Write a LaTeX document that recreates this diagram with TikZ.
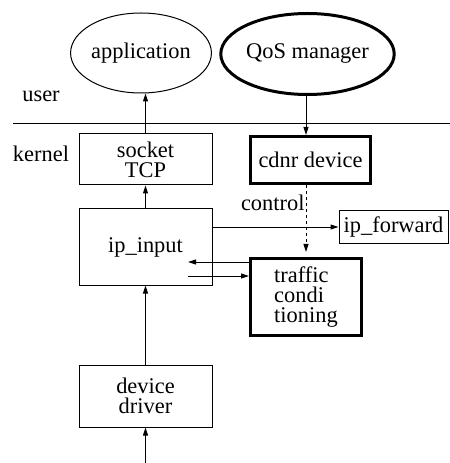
\documentclass[tikz,border=0pt]{standalone}
\usepackage{fontspec}
\setmainfont{Liberation Serif}
\usetikzlibrary{shapes.geometric,arrows.meta}
\newcommand\figfont{\fontsize{22.5}{20}\selectfont}
\tikzset{
  >={Triangle[length=8bp,width=5bp]},
  every path/.style={line width=1bp},
  box/.style={draw, inner sep=0pt, align=center, font=\figfont},
  thickbox/.style={box, line width=3bp},
  oval/.style={draw, ellipse, inner sep=0pt, font=\figfont},
}

\begin{document}
\begin{tikzpicture}[x=1bp, y=-1bp]
\useasboundingbox (0,0) rectangle (450,463);
\node[oval, minimum width=115bp, minimum height=80bp] (app) at (141,53) {application};
\node[oval, line width=3bp, minimum width=166bp, minimum height=81bp] (qos) at (307.5,54) {QoS manager};
\node[font=\figfont] (user) at (41,96) {user};
\node[font=\figfont] (kernel) at (41,154) {kernel};
\coordinate (lineL) at (13,124);
\coordinate (lineR) at (450,124);
\draw (lineL) -- (lineR);
\node[box, minimum width=133bp, minimum height=51bp] (sock) at (145.5,159.5) {socket\\TCP};
\node[thickbox, minimum width=120bp, minimum height=47bp] (cdnr) at (310.5,160) {cdnr device};
\node[box, minimum width=133bp, minimum height=76bp] (ipin) at (145.5,247) {ip\_input};
\node[box, minimum width=109bp, minimum height=33bp] (ipfwd) at (393.5,227) {ip\_forward};
\node[thickbox, minimum width=111bp, minimum height=77bp, align=left] (tc) at (306,297) {traffic\\condi\\tioning};
\node[box, minimum width=133bp, minimum height=62bp] (dev) at (145.5,396) {device\\driver};
\coordinate (ret) at (188,262);
\coordinate (fwd) at (188,276);
\coordinate (wire) at (145.5,463);
\draw [->] (sock.north) -- (sock.north |- app.south);
\draw [->] (qos.south -| tc.north) -- (tc.north |- cdnr.north);
\draw [->] (ipin.north) -- (sock.south);
\draw [->] (ipin.east |- ipfwd.west) -- (ipfwd.west);
\draw [->, dashed, shorten >=5bp] (tc.north |- cdnr.south) -- node[pos=0.25, left, inner sep=1bp, font=\figfont] {control} (tc.north);
\draw [->] (tc.west |- ret) -- (ret);
\draw [->] (fwd) -- (tc.west |- fwd);
\draw [->] (dev.north) -- (ipin.south);
\draw [->] (wire) -- (dev.south);
\end{tikzpicture}
\end{document}
